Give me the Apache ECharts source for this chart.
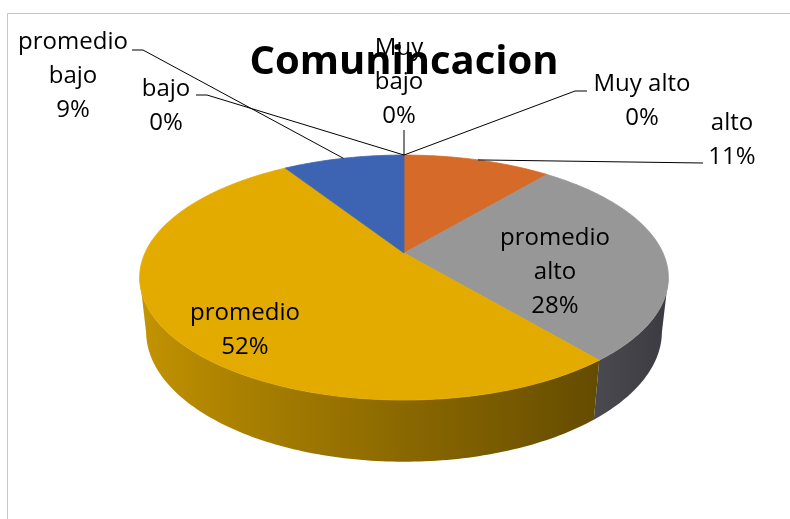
<!DOCTYPE html>
<html>
<head>
<meta charset="utf-8">
<script src="https://cdn.jsdelivr.net/npm/echarts@6/dist/echarts.min.js"></script>
<style>
  html, body { margin: 0; padding: 0; background: #fff; }
  #chart { width: 790px; height: 519px; }
</style>
</head>
<body>
<div id="chart"></div>
<script>
var chartTitle = 'Comunincacion';
var categories = ['Muy alto', 'alto', 'promedio alto', 'promedio', 'promedio bajo', 'bajo', 'Muy bajo'];
var percents = [0, 11, 28, 52, 9, 0, 0];
var sliceColors = ['#4F81C4', '#D66A29', '#979797', '#E3AB00', '#3D64B3', '#6BA546', '#2A4A80'];
// side walls are lit a little differently (the grey one looks slate)
var sideColors = ['#4F81C4', '#D66A29', '#A4A4B4', '#E3AB00', '#3D64B3', '#6BA546', '#2A4A80'];

// label placement: centre x, first line y, wrap words, leader anchor points (label side)
var labelLayout = [
  { x: 642, y: 84, wrap: false, leader: [[587, 91], [575, 91]] },
  { x: 732, y: 123, wrap: false, leader: [[703, 163]] },
  { x: 555, y: 238, wrap: true, leader: null },
  { x: 245, y: 313, wrap: false, leader: null },
  { x: 73, y: 42, wrap: true, leader: [[132, 50], [143, 50]] },
  { x: 166, y: 89, wrap: false, leader: [[196, 95], [207, 95]] },
  { x: 399, y: 48, wrap: true, leader: [[404, 130]] }
];
var LINE_GAP = 34;
var FONT = '"Open Sans", "Noto Sans", sans-serif';

// tilted disc seen in perspective
var CX = 404, CY = 253, R = 259, T = 61;
var TILT = 27 * Math.PI / 180;
var SIN_A = Math.sin(TILT), COS_A = Math.cos(TILT);
var DIST = 1152;
var STEP = Math.PI / 180;

function project(theta, r, h) {
  var X = r * Math.sin(theta), Z = r * Math.cos(theta);
  var yc = Z * SIN_A + h * COS_A;
  var dc = Z * COS_A - h * SIN_A;
  var s = DIST / (DIST + dc);
  return [CX + X * s, CY - yc * s];
}

var total = percents.reduce(function (a, b) { return a + b; }, 0);
var starts = [], ends = [];
var acc = 0;
percents.forEach(function (v) {
  starts.push(acc / total * 2 * Math.PI);
  acc += v;
  ends.push(acc / total * 2 * Math.PI);
});

// silhouette angles of the side wall
var TH_R = Math.acos(-R * COS_A / DIST);
var TH_L = 2 * Math.PI - TH_R;

function shade(hex, f) {
  var n = parseInt(hex.slice(1), 16);
  var r = Math.min(255, Math.round(((n >> 16) & 255) * f));
  var g = Math.min(255, Math.round(((n >> 8) & 255) * f));
  var b = Math.min(255, Math.round((n & 255) * f));
  return 'rgb(' + r + ',' + g + ',' + b + ')';
}
function sideFactor(theta) { return 0.61 - 0.27 * Math.sin(theta); }

function sideGradient(base) {
  var xl = project(TH_L, R, 0)[0], xr = project(TH_R, R, 0)[0];
  var stops = [];
  var m = 30;
  for (var k = 0; k <= m; k++) {
    var th = TH_L - (TH_L - TH_R) * k / m;
    var x = project(th, R, 0)[0];
    stops.push({ offset: Math.max(0, Math.min(1, (x - xl) / (xr - xl))), color: shade(base, sideFactor(th)) });
  }
  return new echarts.graphic.LinearGradient(xl, 0, xr, 0, stops, true);
}

function renderSide(params, api) {
  var i = params.dataIndex;
  var a0 = Math.max(starts[i], TH_R), a1 = Math.min(ends[i], TH_L);
  if (percents[i] <= 0 || a1 <= a0) return;
  var n = Math.max(2, Math.ceil((a1 - a0) / STEP));
  var pts = [];
  for (var k = 0; k <= n; k++) pts.push(project(a0 + (a1 - a0) * k / n, R, 0));
  for (var k2 = n; k2 >= 0; k2--) pts.push(project(a0 + (a1 - a0) * k2 / n, R, -T));
  return { type: 'polygon', shape: { points: pts }, style: { fill: sideGradient(sideColors[i]) } };
}

function renderTop(params, api) {
  var i = params.dataIndex;
  if (percents[i] <= 0) return;
  var a0 = starts[i], a1 = ends[i];
  var n = Math.max(2, Math.ceil((a1 - a0) / STEP));
  var pts = [project(0, 0, 0)];
  for (var k = 0; k <= n; k++) pts.push(project(a0 + (a1 - a0) * k / n, R, 0));
  return {
    type: 'polygon', shape: { points: pts },
    style: { fill: sliceColors[i], stroke: sliceColors[i], lineWidth: 0.8 }
  };
}

var graphics = [
  { type: 'rect', shape: { x: 7.5, y: 13.5, width: 900, height: 700 }, style: { fill: 'none', stroke: '#C6C6C6', lineWidth: 1 }, z: 0, silent: true }
];

categories.forEach(function (name, i) {
  var L = labelLayout[i];
  var lines = (L.wrap ? name.split(' ') : [name]).concat([percents[i] + '%']);
  lines.forEach(function (txt, j) {
    graphics.push({
      type: 'text', z: 50, silent: true,
      style: { text: txt, x: L.x, y: L.y + j * LINE_GAP, textAlign: 'center', textVerticalAlign: 'middle', font: '24px ' + FONT, fill: '#000' }
    });
  });
  if (L.leader) {
    var mid = (starts[i] + ends[i]) / 2;
    var pts = L.leader.concat([project(mid, R, 0)]);
    graphics.push({ type: 'polyline', z: 60, silent: true, shape: { points: pts }, style: { stroke: '#000', lineWidth: 1, fill: null } });
  }
});

graphics.push({
  type: 'text', z: 70, silent: true,
  style: { text: chartTitle, x: 404, y: 63, textAlign: 'center', textVerticalAlign: 'middle', font: 'bold 40px ' + FONT, fill: '#000' }
});

var chart = echarts.init(document.getElementById('chart'));
var sliceData = percents.map(function (v, i) { return [i, v]; });
chart.setOption({
  animation: false,
  backgroundColor: '#fff',
  graphic: graphics,
  series: [
    { type: 'custom', name: 'side', coordinateSystem: 'none', data: sliceData, z: 1, silent: true, renderItem: renderSide },
    { type: 'custom', name: 'top', coordinateSystem: 'none', data: sliceData, z: 2, silent: true, renderItem: renderTop }
  ]
});
</script>
</body>
</html>
